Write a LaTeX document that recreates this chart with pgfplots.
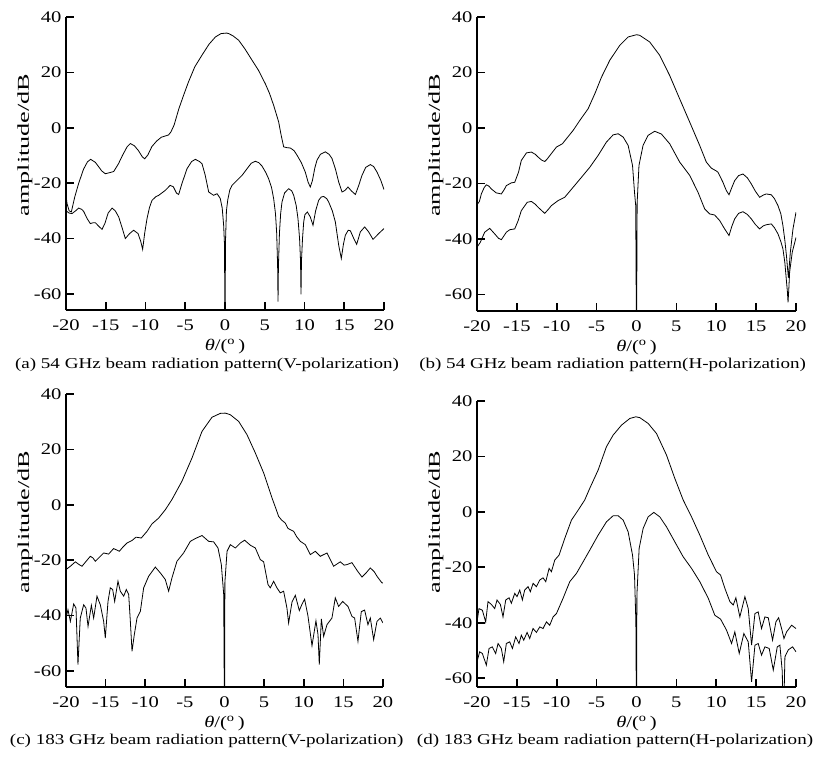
\documentclass[border=0pt]{standalone}
\usepackage{fontspec}
\setmainfont{Liberation Serif}
\newfontfamily\tickfont{Liberation Serif}[FakeStretch=1.27]
\newfontfamily\ylabfont{Liberation Serif}[FakeStretch=1.58]
\usepackage{pgfplots}
\pgfplotsset{compat=1.18}

\pgfplotsset{
  pat/.style={
    scale only axis,
    xmin=-20, xmax=20, ymax=40,
    axis x line*=bottom, axis y line*=left,
    axis line style={-, line width=1pt},
    xtick={-20,-15,...,20},
    ytick={-60,-40,...,40},
    major tick length=4.2pt,
    major tick style={line width=0.8pt, black},
    tick label style={font=\tickfont\fontsize{8.1}{9}\selectfont},
    xticklabel style={yshift=-1.3pt},
    yticklabel style={xshift=1.2pt},
    /pgf/number format/assume math mode=true,
    xlabel={\textit{θ}/(\textsuperscript{o}\,)},
    xlabel style={font=\tickfont\fontsize{8.1}{9}\selectfont, at={(axis description cs:0.5,0)}, anchor=base, yshift=-20pt},
    ylabel={amplitude/dB},
    cycle list={{black, mark=none, line width=0.5pt, line join=round, smooth, tension=0.45}},
  },
}

\begin{document}
\begin{tikzpicture}
\path[use as bounding box] (0,0) rectangle (411.5pt,378pt);

% (a) 54 GHz, V
\begin{axis}[pat, at={(33pt,223pt)}, anchor=south west,
    width=159pt, height=146.5pt, ymin=-65.8,
    ylabel style={font=\ylabfont\fontsize{8.3}{9}\selectfont, at={(axis description cs:-0.1164,0.563)}, anchor=base}]
\addplot coordinates {
(-20,-24.5) (-19.87,-27.4) (-19.6,-30) (-19.33,-30.4) (-18.9,-25) (-18.4,-20) (-17.8,-15)
(-17.3,-12.3) (-16.9,-11.4) (-16.3,-12.5) (-15.5,-15.6) (-15.05,-16.6) (-14.5,-16.2)
(-14.0,-15.8) (-13.4,-13) (-12.9,-10) (-12.3,-6.8) (-11.9,-5.7) (-11.4,-6.5) (-10.9,-8.2)
(-10.4,-10.5) (-10.1,-11.2) (-9.7,-9.8) (-9.2,-6.8) (-8.6,-4.8) (-8.0,-3.4) (-7.1,-2.6)
(-6.8,-1.5) (-6.4,1.0) (-5.8,6.9) (-5.2,11.8) (-4.6,16.5) (-3.8,22) (-2.9,26.2) (-2.0,30.2)
(-1.2,32.8) (-0.5,34) (0.2,34.2) (0.46,34.0) (1.0,33.2) (1.72,31.6) (2.5,28.5) (3.4,24.4)
(4.2,20.8) (5.07,15.9) (5.6,12.4) (6.12,8.1) (6.5,4.5) (6.75,2.1) (7.05,-2.5) (7.38,-6.9)
(7.8,-7.2) (8.22,-7.3) (8.7,-8.3) (9.06,-9.9) (9.6,-12.6) (10.1,-16.0) (10.45,-19.6)
(10.73,-21.4) (11.0,-19) (11.3,-14.5) (11.57,-11.7) (12.0,-9.6) (12.62,-8.7) (13.1,-9.6)
(13.46,-11.1) (13.9,-15) (14.3,-19.6) (14.72,-23.2) (15.1,-22.6) (15.47,-21.4) (15.9,-22.8)
(16.4,-24.1) (16.8,-21) (17.23,-17.2) (17.7,-14.3) (18.28,-13.3) (18.7,-14) (19.12,-16.0)
(19.6,-19) (20,-22.3)
};
\addplot coordinates {
(-20,-30.0) (-19.6,-30.8) (-19.25,-31.0) (-18.8,-30) (-18.4,-29.0) (-18.0,-29.5) (-17.78,-30.2)
(-17.3,-33) (-16.94,-34.6) (-16.6,-34.3) (-16.3,-34.3) (-15.9,-35.5) (-15.47,-36.7)
(-15.1,-34.5) (-14.7,-30.8) (-14.2,-29.0) (-13.8,-30) (-13.37,-32.2) (-12.9,-36.5)
(-12.54,-40.0) (-12.0,-38.2) (-11.49,-37.0) (-10.94,-38.2) (-10.6,-41) (-10.36,-43.9)
(-10.1,-38) (-9.81,-32.8) (-9.5,-28.8) (-9.18,-26.2) (-8.7,-24.9) (-8.34,-24.4) (-7.51,-22.6)
(-6.9,-20.8) (-6.5,-21.3) (-6.1,-23.6) (-5.83,-24.1) (-5.4,-20) (-4.78,-14.8) (-4.2,-12.2)
(-3.73,-11.4) (-3.2,-12.2) (-2.89,-13.0) (-2.5,-17.0) (-2.05,-23.2) (-1.43,-24.4) (-1.0,-23.8)
(-0.6,-25.5) (-0.35,-29) (-0.17,-35.2) (-0.06,-42.4) (0,-80) (0.06,-41.2) (0.18,-30)
(0.35,-26) (0.6,-22.5) (0.88,-20.8) (1.51,-19.0) (2.14,-17.2) (2.77,-14.8) (3.3,-12.8)
(3.82,-12.1) (4.25,-12.6) (4.65,-13.8) (5.1,-16) (5.49,-18.4) (5.85,-21.5) (6.12,-25.6)
(6.35,-31) (6.5,-38) (6.62,-50) (6.67,-62.8) (6.72,-50) (6.85,-38) (7.0,-31) (7.17,-26.8)
(7.5,-23.5) (8.01,-22.0) (8.4,-22.8) (8.64,-24.4) (8.95,-28) (9.18,-32.8) (9.38,-40) (9.5,-48)
(9.56,-60.2) (9.62,-48) (9.75,-40) (9.9,-34) (10.05,-31.4) (10.36,-30.4) (10.73,-32.2)
(11.07,-35.2) (11.4,-30) (11.78,-26.2) (12.1,-25.0) (12.41,-24.8) (12.8,-25.6) (13.04,-26.8)
(13.5,-30) (13.88,-34.0) (14.3,-42.4) (14.63,-47.2) (14.9,-42) (15.14,-38.8) (15.5,-37.0)
(15.77,-37.2) (16.2,-40.0) (16.56,-42.1) (16.8,-39.8) (17.02,-37.6) (17.57,-35.8)
(18.07,-37.6) (18.62,-40.3) (19.0,-39.2) (19.33,-38.2) (20,-36.4)
};
\end{axis}

% (b) 54 GHz, H
\begin{axis}[pat, at={(238.5pt,222.5pt)}, anchor=south west,
    width=159.5pt, height=147pt, ymin=-66,
    ylabel style={font=\ylabfont\fontsize{8.3}{9}\selectfont, at={(axis description cs:-0.1164,0.563)}, anchor=base}]
\addplot coordinates {
(-20,-27.7) (-19.7,-26.5) (-19.46,-23.8) (-19.1,-21.5) (-18.83,-20.5) (-18.5,-21) (-18.2,-22.0)
(-17.6,-23.4) (-16.95,-23.8) (-16.6,-22.3) (-16.32,-20.8) (-15.69,-19.8) (-15.27,-19.6)
(-14.8,-16) (-14.44,-11.7) (-13.8,-9.0) (-13.18,-8.7) (-12.7,-9.5) (-12.34,-10.5)
(-11.9,-11.6) (-11.51,-12.1) (-11.2,-11.2) (-10.88,-10.0) (-10.04,-6.9) (-9.29,-5.7)
(-8.79,-3.9) (-7.95,-0.9) (-7.11,2.7) (-6.07,6.9) (-5.23,12.3) (-4.39,18.3) (-3.35,24.4)
(-2.09,29.8) (-1.05,32.8) (0,33.6) (0.4,33.4) (1.65,31.0) (2.9,26.2) (4.16,18.9) (5.41,10.5)
(6.67,2.1) (7.92,-6.3) (8.75,-12.3) (9.38,-14.5) (10.0,-15.5) (10.22,-16.0) (10.84,-19.6)
(11.25,-22.5) (11.6,-24.1) (11.95,-21.5) (12.31,-19.0) (12.8,-17.2) (13.35,-16.6) (13.9,-18)
(14.4,-20.2) (14.9,-22.8) (15.44,-25.0) (15.9,-24.2) (16.28,-23.8) (16.9,-24.1) (17.3,-25.5)
(17.74,-28.0) (18.1,-31) (18.36,-35.2) (18.6,-40.5) (18.8,-46) (18.95,-51) (19.05,-54)
(19.15,-50) (19.29,-44.8) (19.62,-36.4) (20,-30.4)
};
\addplot coordinates {
(-20,-43.0) (-19.58,-41.2) (-19.04,-37.6) (-18.41,-36.2) (-17.78,-38.2) (-17.3,-39.8)
(-16.95,-40.3) (-16.32,-37.6) (-15.9,-36.7) (-15.27,-36.4) (-14.85,-33.5) (-14.44,-29.8)
(-13.7,-26.8) (-13.18,-26.5) (-12.7,-27.5) (-12.34,-28.6) (-11.51,-30.8) (-11.1,-29.5)
(-10.67,-28.0) (-9.83,-26.2) (-9.0,-25.0) (-7.95,-21.4) (-6.9,-17.8) (-5.86,-14.2)
(-4.81,-9.9) (-3.77,-5.1) (-2.93,-2.5) (-2.3,-2.1) (-1.67,-3.3) (-1.05,-6.3) (-0.5,-13.5)
(-0.25,-23.2) (-0.1,-28) (0,-80) (0.08,-27) (0.31,-13.5) (0.82,-6.3) (1.44,-2.7) (2.28,-1.2)
(3.12,-2.2) (4.16,-5.7) (5.41,-12.3) (6.67,-17.1) (7.71,-23.2) (8.55,-29.2) (9.17,-31.0)
(9.8,-31.4) (10.43,-33.4) (11.05,-36.4) (11.6,-38.8) (11.95,-35.5) (12.31,-32.8) (12.8,-30.8)
(13.35,-30.2) (13.9,-31.2) (14.4,-32.8) (14.9,-34.8) (15.44,-36.4) (15.9,-35.3) (16.28,-34.9)
(16.9,-34.6) (17.3,-36) (17.74,-38.2) (18.1,-41) (18.36,-43.6) (18.6,-48.5) (18.78,-54.5)
(18.92,-59) (19.0,-62.9) (19.1,-58) (19.2,-52) (19.53,-44.8) (20,-39.5)
};
\end{axis}

% (c) 183 GHz, V
\begin{axis}[pat, at={(33pt,34.5pt)}, anchor=south west,
    width=158.5pt, height=146.5pt, ymin=-65.8,
    ylabel style={font=\ylabfont\fontsize{8.3}{9}\selectfont, at={(axis description cs:-0.1164,0.563)}, anchor=base}]
\addplot coordinates {
(-20,-23.4) (-19.45,-22.2) (-18.82,-20.6) (-18.4,-21.5) (-17.98,-22.2) (-17.4,-20.2)
(-16.93,-18.6) (-16.6,-19.2) (-16.3,-20.4) (-15.8,-19) (-15.25,-17.4) (-14.62,-17.8)
(-13.99,-15.8) (-13.27,-16.8) (-12.8,-15.2) (-12.3,-13.8) (-11.67,-12.9) (-11.17,-11.7)
(-10.5,-12.0) (-9.78,-9.6) (-9.15,-6.9) (-8.31,-4.8) (-7.47,-1.8) (-6.63,1.9) (-5.37,8.5)
(-4.1,16.9) (-2.84,26.5) (-1.58,31.6) (-0.53,33.0) (0.1,33.1) (0.74,32.5) (1.79,30.1)
(2.84,25.3) (3.89,18.7) (4.94,11.5) (5.99,2.5) (6.5,-1.5) (6.83,-4.2) (7.2,-5.5) (7.67,-6.6)
(8.0,-8.5) (8.31,-9.0) (8.73,-9.6) (9.1,-11.5) (9.57,-13.2) (10.2,-14.4) (10.83,-18.0)
(11.46,-16.8) (12.09,-18.6) (12.93,-17.4) (13.77,-22.2) (14.61,-20.6) (15.1,-21.8)
(15.45,-21.6) (16.08,-20.9) (16.8,-24) (17.35,-26.1) (17.9,-24.5) (18.4,-22.8) (18.9,-24.2)
(19.24,-25.8) (19.87,-28.2) (20,-28.2)
};
\addplot coordinates {
(-20,-40.9) (-19.75,-37.9) (-19.45,-42.1) (-19.03,-35.8) (-18.74,-37.3) (-18.49,-57.7)
(-18.2,-40.9) (-17.77,-36.1) (-17.48,-37.3) (-17.22,-43.9) (-16.8,-36.3) (-16.51,-40.9)
(-16.09,-33.0) (-15.67,-36.1) (-15.25,-42.1) (-15.04,-48.1) (-14.7,-34.9) (-14.41,-30.0)
(-14.11,-30.6) (-13.86,-34.9) (-13.44,-27.6) (-13.15,-31.2) (-12.72,-33.0) (-12.39,-30.6)
(-12.09,-32.4) (-11.88,-42.1) (-11.67,-52.9) (-11.38,-46.9) (-11.04,-40.9) (-10.62,-38.5)
(-10.2,-30.0) (-9.57,-25.8) (-8.73,-22.5) (-8.1,-24.6) (-7.47,-27.0) (-7.05,-31.2)
(-6.63,-26.4) (-6.0,-20.4) (-5.16,-17.4) (-4.31,-13.2) (-3.68,-12.2) (-2.84,-11.1)
(-2.0,-13.2) (-1.37,-13.4) (-0.82,-15.6) (-0.4,-21.6) (-0.1,-32.4) (0,-80) (0.05,-28)
(0.32,-16.8) (0.74,-14.4) (1.37,-15.6) (2.0,-13.8) (2.54,-12.8) (3.26,-14.6) (3.89,-15.6)
(4.52,-19.8) (4.94,-20.6) (5.49,-28.8) (5.78,-30.0) (6.2,-27.6) (6.62,-30.0) (7.04,-31.8)
(7.46,-31.2) (7.88,-37.3) (8.09,-42.7) (8.52,-35.1) (8.94,-32.7) (9.44,-38.2) (9.78,-35.9)
(10.11,-34.1) (10.53,-40.1) (11.04,-50.9) (11.54,-41.9) (11.8,-46.9) (11.96,-57.7)
(12.22,-41.2) (12.51,-47.5) (12.93,-43.3) (13.56,-40.9) (13.98,-33.6) (14.4,-36.7)
(14.91,-34.9) (15.58,-36.7) (16.08,-40.3) (16.42,-40.9) (16.84,-49.3) (17.26,-38.6)
(17.68,-38.0) (18.1,-43.3) (18.4,-40.9) (18.82,-48.7) (19.24,-42.1) (19.66,-40.9) (20,-42.7)
};
\end{axis}

% (d) 183 GHz, H
\begin{axis}[pat, at={(238.5pt,34.5pt)}, anchor=south west,
    width=159.5pt, height=143pt, ymin=-63.2,
    ylabel style={font=\ylabfont\fontsize{8.3}{9}\selectfont, at={(axis description cs:-0.1164,0.577)}, anchor=base}]
\addplot coordinates {
(-20,-39.7) (-19.75,-34.9) (-19.33,-35.5) (-18.91,-39.7) (-18.62,-32.4) (-18.2,-33.4)
(-17.78,-34.9) (-17.49,-31.8) (-17.07,-33.4) (-16.74,-37.9) (-16.4,-31.8) (-15.98,-31.0)
(-15.69,-33.0) (-15.27,-29.4) (-14.98,-30.6) (-14.64,-28.2) (-14.31,-31.8) (-14.02,-28.2)
(-13.6,-27.0) (-13.31,-28.8) (-12.97,-25.8) (-12.55,-27.0) (-12.13,-24.6) (-11.72,-23.8)
(-11.38,-25.2) (-10.96,-20.4) (-10.67,-21.6) (-10.25,-17.4) (-9.71,-15.6) (-9.0,-9.6)
(-8.16,-3.0) (-7.32,0.6) (-6.49,4.3) (-5.86,8.5) (-4.81,15.1) (-3.77,23.5) (-2.93,27.7)
(-1.88,31.3) (-0.84,33.7) (-0.08,34.3) (0.41,34.0) (1.46,31.9) (2.5,28.3) (3.76,20.5)
(4.8,12.1) (5.85,4.3) (6.9,-1.8) (7.94,-8.4) (9.0,-15.6) (10.03,-21.6) (10.54,-22.8)
(11.08,-27.6) (11.71,-32.4) (12.13,-33.6) (12.46,-31.0) (12.96,-37.9) (13.59,-30.6)
(14.01,-34.9) (14.43,-48.1) (14.85,-36.7) (15.26,-36.1) (15.68,-42.1) (16.1,-37.9)
(16.52,-38.2) (17.06,-46.3) (17.48,-39.7) (17.82,-38.2) (18.19,-42.1) (18.49,-45.7)
(18.82,-43.3) (19.45,-40.9) (20,-42.1)
};
\addplot coordinates {
(-20,-54.1) (-19.67,-50.5) (-19.33,-51.1) (-18.83,-55.3) (-18.49,-49.3) (-18.08,-48.7)
(-17.66,-51.1) (-17.36,-47.5) (-16.95,-49.3) (-16.65,-54.1) (-16.32,-47.5) (-15.9,-46.9)
(-15.56,-49.3) (-15.15,-45.1) (-14.73,-47.5) (-14.44,-44.5) (-14.14,-46.3) (-13.72,-43.5)
(-13.39,-45.7) (-12.97,-42.1) (-12.55,-43.5) (-12.13,-41.5) (-11.72,-42.1) (-11.3,-39.7)
(-10.88,-40.9) (-10.46,-37.9) (-10.04,-36.7) (-9.21,-31.2) (-8.37,-25.2) (-7.53,-22.2)
(-6.69,-18.0) (-5.86,-13.8) (-4.81,-8.4) (-3.77,-3.6) (-2.93,-1.4) (-2.3,-1.4) (-1.67,-3.0)
(-1.05,-7.2) (-0.5,-15.6) (-0.25,-22.8) (-0.08,-39.7) (0,-80) (0.05,-30) (0.33,-13.2)
(0.83,-6.0) (1.46,-1.8) (2.17,-0.2) (2.92,-1.8) (3.76,-5.4) (4.8,-10.8) (5.85,-16.2)
(6.9,-20.4) (7.94,-25.2) (9.0,-31.2) (9.82,-37.3) (10.54,-38.7) (11.29,-42.7) (11.92,-47.5)
(12.33,-43.3) (12.88,-51.1) (13.46,-43.9) (14.01,-46.9) (14.43,-61.3) (14.85,-48.1)
(15.26,-47.5) (15.68,-51.7) (16.1,-48.7) (16.64,-49.3) (17.15,-57.1) (17.65,-48.7)
(17.98,-48.1) (18.28,-57.7) (18.4,-80) (18.61,-52.3) (19.03,-49.8) (19.57,-48.7) (20,-50.5)
};
\end{axis}

\begin{scope}[every node/.style={font=\tickfont\fontsize{7.5}{9}\selectfont, anchor=base, inner sep=0pt}]
\node at (103.5pt,194pt) {(a) 54 GHz beam radiation pattern(V-polarization)};
\node at (306.3pt,194pt) {(b) 54 GHz beam radiation pattern(H-polarization)};
\node at (103.3pt,5.6pt) {(c) 183 GHz beam radiation pattern(V-polarization)};
\node at (307.5pt,5.6pt) {(d) 183 GHz beam radiation pattern(H-polarization)};
\end{scope}
\end{tikzpicture}
\end{document}
